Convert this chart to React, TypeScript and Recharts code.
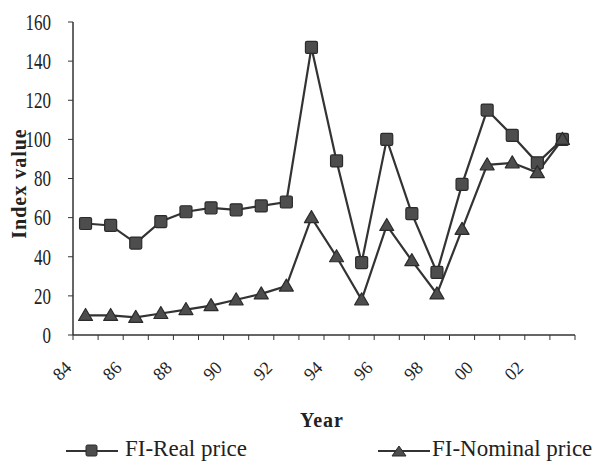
import React from 'react';

import { Label, Legend, Line, LineChart, XAxis, YAxis } from 'recharts';

const years = [
  '84', '85', '86', '87', '88', '89', '90', '91', '92', '93',
  '94', '95', '96', '97', '98', '99', '00', '01', '02', '03',
];
const realPrice = [57, 56, 47, 58, 63, 65, 64, 66, 68, 147, 89, 37, 100, 62, 32, 77, 115, 102, 88, 100];
const nominalPrice = [10, 10, 9, 11, 13, 15, 18, 21, 25, 60, 40, 18, 56, 38, 21, 54, 87, 88, 83, 100];
const yearTickLabels = ['84', '86', '88', '90', '92', '94', '96', '98', '00', '02'];
const yTicks = [0, 20, 40, 60, 80, 100, 120, 140, 160];

// points sit in the middle of each year slot, ticks on the slot edges
const data = years.map((year, i) => ({
  year,
  pos: i + 0.5,
  real: realPrice[i],
  nominal: nominalPrice[i],
}));
const slotEdges = years.map((_, i) => i).concat(years.length);

const FONT = '"Liberation Serif", "Times New Roman", serif';
const INK = '#333';
const MARK = '#4d4d4d';

const SquareDot = (props: any) => {
  const { cx, cy } = props;
  if (cx == null || cy == null) return null;
  return <rect x={cx - 6} y={cy - 6} width={12} height={12} rx={1.5} fill={MARK} stroke="#2b2b2b" strokeWidth={1.2} />;
};

const TriangleDot = (props: any) => {
  const { cx, cy } = props;
  if (cx == null || cy == null) return null;
  return (
    <polygon
      points={`${cx},${cy - 7} ${cx + 7},${cy + 5} ${cx - 7},${cy + 5}`}
      fill={MARK}
      stroke="#2b2b2b"
      strokeWidth={1.2}
      strokeLinejoin="round"
    />
  );
};

// every other slot edge gets a slanted year label
const YearTick = (props: any) => {
  const { x, y, payload } = props;
  const v = payload.value;
  if (v % 2 !== 0 || v >= years.length) return null;
  return (
    <g transform={`translate(${x - 11},${y + 29}) rotate(-45)`}>
      <text x={0} y={0} textAnchor="middle" dominantBaseline="central" fontFamily={FONT} fontSize={18} fill="#222">
        {yearTickLabels[v / 2]}
      </text>
    </g>
  );
};

const ValueTick = (props: any) => {
  const { x, y, payload } = props;
  return (
    <g transform={`translate(${x - 6},${y}) scale(1,1.3)`}>
      <text x={0} y={0} textAnchor="end" dominantBaseline="central" fontFamily={FONT} fontSize={17} fill="#222">
        {payload.value}
      </text>
    </g>
  );
};

const LegendIcon = ({ shape }: { shape: 'square' | 'triangle' }) => (
  <svg width={52} height={16} style={{ verticalAlign: 'middle' }}>
    <line x1={0} y1={8} x2={52} y2={8} stroke={INK} strokeWidth={2} />
    {shape === 'square' ? (
      <rect x={20} y={2} width={11} height={11} rx={1.5} fill={MARK} stroke="#2b2b2b" />
    ) : (
      <polygon points="21,3 28,13 14,13" fill={MARK} stroke="#2b2b2b" />
    )}
  </svg>
);

const renderLegend = () => (
  <div style={{ position: 'relative', height: 30, fontFamily: FONT, fontSize: 23, color: '#222' }}>
    <div style={{ position: 'absolute', left: 66, top: 0, lineHeight: '30px', whiteSpace: 'nowrap' }}>
      <LegendIcon shape="square" />
      <span style={{ marginLeft: 7 }}>FI-Real price</span>
    </div>
    <div style={{ position: 'absolute', left: 378, top: 0, lineHeight: '30px', whiteSpace: 'nowrap' }}>
      <LegendIcon shape="triangle" />
      <span style={{ marginLeft: 2 }}>FI-Nominal price</span>
    </div>
  </div>
);

export default function App() {
  return (
    <div style={{ position: 'absolute', left: 0, top: 0, background: '#fff' }}>
      <LineChart width={610} height={461} data={data} margin={{ top: 22, right: 35, left: 0, bottom: 4 }}>
        <XAxis
          dataKey="pos"
          type="number"
          domain={[0, years.length]}
          ticks={slotEdges}
          interval={0}
          tick={<YearTick />}
          tickSize={5}
          height={92}
          axisLine={{ stroke: INK, strokeWidth: 1.5 }}
          tickLine={{ stroke: INK }}
        >
          <Label
            content={(p: any) => {
              const vb = p.viewBox;
              return (
                <text
                  x={vb.x + vb.width / 2 - 2}
                  y={427}
                  textAnchor="middle"
                  fontFamily={FONT}
                  fontSize={20}
                  fontWeight="bold"
                  letterSpacing={1}
                  fill="#222"
                >
                  Year
                </text>
              );
            }}
          />
        </XAxis>
        <YAxis
          domain={[0, 160]}
          ticks={yTicks}
          interval={0}
          width={73}
          tick={<ValueTick />}
          tickSize={5}
          tickMargin={11}
          axisLine={{ stroke: INK, strokeWidth: 1.5 }}
          tickLine={{ stroke: INK }}
        >
          <Label
            content={(p: any) => {
              const vb = p.viewBox;
              const cx = 19;
              const cy = vb.y + vb.height / 2 + 5;
              return (
                <text
                  x={cx}
                  y={cy}
                  transform={`rotate(-90 ${cx} ${cy})`}
                  textAnchor="middle"
                  dominantBaseline="central"
                  fontFamily={FONT}
                  fontSize={20}
                  fontWeight="bold"
                  letterSpacing={1}
                  fill="#222"
                >
                  Index value
                </text>
              );
            }}
          />
        </YAxis>
        <Legend
          verticalAlign="bottom"
          height={30}
          content={renderLegend}
          wrapperStyle={{ left: 0, top: 434, width: 610 }}
        />
        <Line
          dataKey="real"
          name="FI-Real price"
          stroke={INK}
          strokeWidth={2.2}
          dot={<SquareDot />}
          activeDot={false}
          isAnimationActive={false}
        />
        <Line
          dataKey="nominal"
          name="FI-Nominal price"
          stroke={INK}
          strokeWidth={2.2}
          dot={<TriangleDot />}
          activeDot={false}
          isAnimationActive={false}
        />
      </LineChart>
    </div>
  );
}
